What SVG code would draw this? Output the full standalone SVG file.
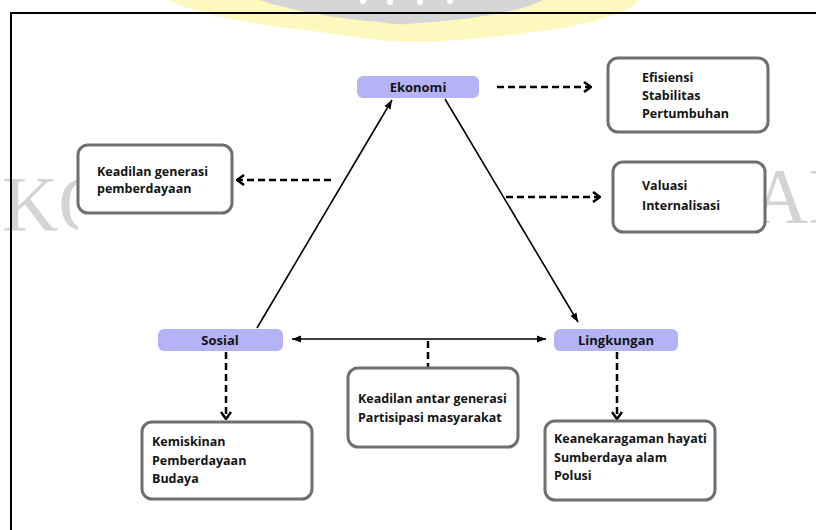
<svg xmlns="http://www.w3.org/2000/svg" width="816" height="530" viewBox="0 0 816 530">
<defs>
<style>
.pill{fill:#b3b3f6;}
.box{fill:#fff;stroke:#6f6f6f;stroke-width:3;}
.t{font-family:"Open Sans","Noto Sans",sans-serif;font-weight:700;font-size:12.5px;fill:#141414;}
.tc{text-anchor:middle;font-size:13px;}
.solid{stroke:#000;stroke-width:1.6;fill:none;}
.dash{stroke:#000;stroke-width:2.5;stroke-dasharray:7 4;fill:none;}
.wm{font-family:"Liberation Serif",serif;font-size:78px;fill:#d4d4d4;}
</style>
<clipPath id="clipL"><rect x="0" y="150" width="78" height="100"/></clipPath>
<clipPath id="clipR"><rect x="765" y="150" width="51" height="100"/></clipPath>
<marker id="tri" viewBox="0 0 10 10" refX="10" refY="5" markerWidth="9" markerHeight="9" orient="auto-start-reverse" markerUnits="userSpaceOnUse"><path d="M0,1 L10,5 L0,9 Z" fill="#000"/></marker>
<marker id="chev" viewBox="0 0 10 12" refX="9" refY="6" markerWidth="10" markerHeight="12" orient="auto" markerUnits="userSpaceOnUse"><path d="M2,1 L9,6 L2,11" fill="none" stroke="#000" stroke-width="2.5"/></marker>
</defs>
<rect width="816" height="530" fill="#fff"/>
<g id="watermark">
<path d="M167,0 L640,0 C620,20 560,30 500,36 C460,40 440,42 420,42 C390,42 360,38 320,32 C250,24 200,15 167,0 Z" fill="#fbf5a8" opacity="0.75"/>
<path d="M260,0 L543,0 C520,12 470,20 420,23 C400,25 395,25 380,22 C330,18 290,10 260,0 Z" fill="#d6d6d6"/>
<circle cx="363" cy="1" r="3" fill="#fff"/>
<circle cx="390" cy="2" r="3" fill="#fff"/>
<circle cx="420" cy="2" r="3" fill="#fff"/>
<circle cx="450" cy="1" r="3" fill="#fff"/>
<text class="wm" x="2" y="230" clip-path="url(#clipL)">KO</text>
<text class="wm" x="752" y="222" clip-path="url(#clipR)">AN</text>
</g>
<path d="M11,530 L11,13 L816,13" fill="none" stroke="#000" stroke-width="2"/>
<g id="connectors">
<line class="solid" x1="257" y1="328" x2="392" y2="100" marker-end="url(#tri)"/>
<line class="solid" x1="445" y1="99" x2="578" y2="322" marker-end="url(#tri)"/>
<line class="solid" x1="292" y1="339" x2="546" y2="339" stroke-width="2.4" marker-start="url(#tri)" marker-end="url(#tri)"/>
<line class="dash" x1="428" y1="341" x2="428" y2="367"/>
<line class="dash" x1="226" y1="352" x2="226" y2="419" marker-end="url(#chev)"/>
<line class="dash" x1="617" y1="352" x2="617" y2="419" marker-end="url(#chev)"/>
<line class="dash" x1="497" y1="87" x2="591" y2="87" marker-end="url(#chev)"/>
<line class="dash" x1="506" y1="197" x2="600" y2="197" marker-end="url(#chev)"/>
<line class="dash" x1="331" y1="180" x2="237" y2="180" marker-end="url(#chev)"/>
</g>
<g id="ekonomi"><rect class="pill" x="357" y="76" width="122" height="22" rx="6"/><text class="t tc" x="418" y="91.5">Ekonomi</text></g>
<g id="sosial"><rect class="pill" x="158" y="329" width="125" height="22" rx="6"/><text class="t tc" x="220" y="344.5">Sosial</text></g>
<g id="lingkungan"><rect class="pill" x="554" y="329" width="124" height="22" rx="6"/><text class="t tc" x="616" y="344.5">Lingkungan</text></g>
<g id="box-efisiensi"><rect class="box" x="608" y="58" width="160" height="74" rx="10"/>
<text class="t" x="642" y="82">Efisiensi</text><text class="t" x="642" y="100">Stabilitas</text><text class="t" x="642" y="118">Pertumbuhan</text></g>
<g id="box-valuasi"><rect class="box" x="613" y="162" width="152" height="70" rx="10"/>
<text class="t" x="642" y="190">Valuasi</text><text class="t" x="642" y="210">Internalisasi</text></g>
<g id="box-keadilan-generasi"><rect class="box" x="78" y="145" width="154" height="68" rx="10"/>
<text class="t" x="97" y="176">Keadilan generasi</text><text class="t" x="97" y="193">pemberdayaan</text></g>
<g id="box-kemiskinan"><rect class="box" x="142" y="422" width="170" height="77" rx="10"/>
<text class="t" x="152" y="446">Kemiskinan</text><text class="t" x="152" y="465">Pemberdayaan</text><text class="t" x="152" y="483">Budaya</text></g>
<g id="box-keadilan-antar"><rect class="box" x="348" y="368" width="170" height="79" rx="10"/>
<text class="t" x="358" y="403">Keadilan antar generasi</text><text class="t" x="358" y="422">Partisipasi masyarakat</text></g>
<g id="box-keanekaragaman"><rect class="box" x="545" y="421" width="170" height="79" rx="10"/>
<text class="t" x="554" y="443">Keanekaragaman hayati</text><text class="t" x="554" y="462">Sumberdaya alam</text><text class="t" x="554" y="480">Polusi</text></g>
</svg>
